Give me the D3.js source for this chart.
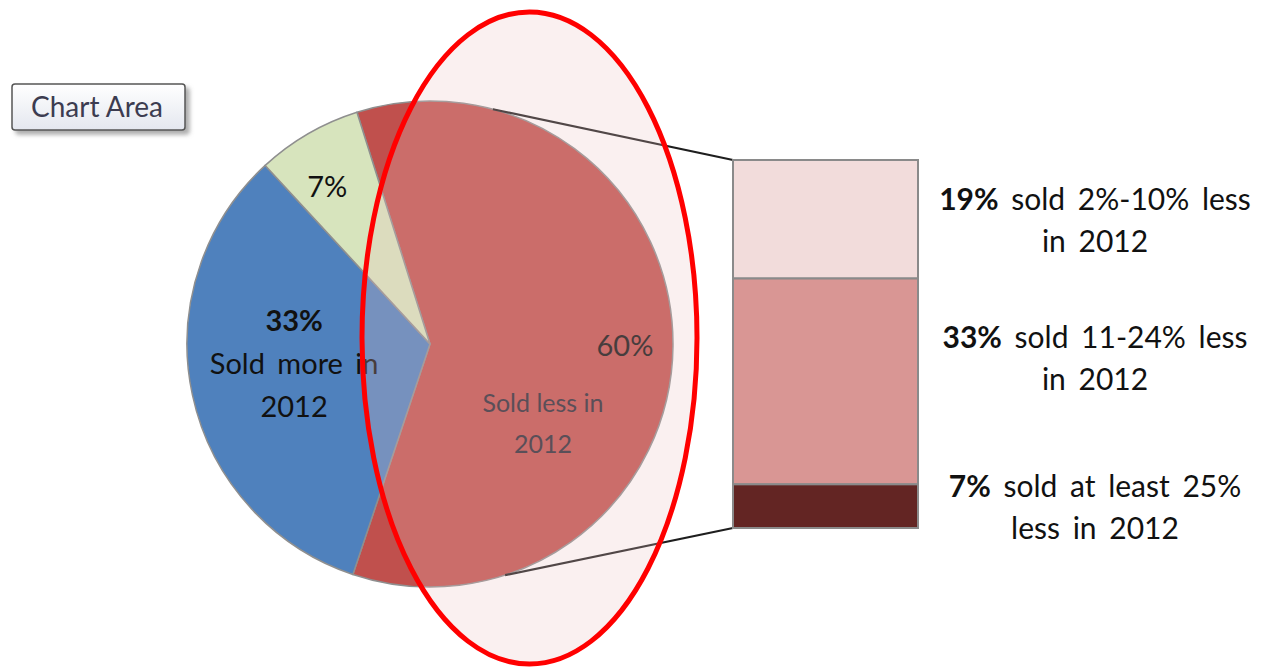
<!DOCTYPE html>
<html><head><meta charset="utf-8">
<script src="https://cdn.jsdelivr.net/npm/d3@7"></script>
<style>
body{margin:0;background:#fff;}
svg{display:block;font-family:Lato, "Open Sans", sans-serif;}
</style>
</head><body>
<svg id="c" width="1261" height="669"></svg>
<script>
// ---- data ----
const pieCategories = ["Sold less in 2012", "Sold more in 2012", "Sold the same"];
const pieValues = [60, 33, 7];
const pieColors = ["#c0504d", "#4f81bd", "#d7e4bd"];
const pieLabelLines = [["60%"], ["33%", "Sold more in", "2012"], ["7%"]];
const calloutLines = ["Sold less in", "2012"];

const barPercents = ["19%", "33%", "7%"];
const barValues = [19, 33, 7];
const barColors = ["#f2dcdb", "#d99694", "#632523"];
const barLabelLines = [["sold 2%-10% less", "in 2012"], ["sold 11-24% less", "in 2012"], ["sold at least 25%", "less in 2012"]];

// ---- layout ----
const svg = d3.select("#c");
const cx = 430, cy = 344, R = 243;
const startDeg = -17.5;

const defs = svg.append("defs");
const g1 = defs.append("linearGradient").attr("id", "boxg").attr("x1", 0).attr("y1", 0).attr("x2", 0).attr("y2", 1);
g1.append("stop").attr("offset", "0%").attr("stop-color", "#ffffff");
g1.append("stop").attr("offset", "100%").attr("stop-color", "#e4e7ef");
const f = defs.append("filter").attr("id", "sh").attr("x", "-10%").attr("y", "-20%").attr("width", "130%").attr("height", "160%");
f.append("feDropShadow").attr("dx", 4).attr("dy", 4).attr("stdDeviation", 2).attr("flood-color", "#777").attr("flood-opacity", 0.6);

const pie = d3.pie().sort(null).value(d => d)
  .startAngle(startDeg * Math.PI / 180)
  .endAngle(startDeg * Math.PI / 180 + 2 * Math.PI);
const arcs = pie(pieValues);
const arc = d3.arc().innerRadius(0).outerRadius(R);

const pg = svg.append("g").attr("transform", `translate(${cx},${cy})`);
pg.selectAll("path.slice").data(arcs).enter().append("path")
  .attr("class", "slice")
  .attr("d", arc)
  .attr("fill", (d, i) => pieColors[i])
  .attr("stroke", "#8f8f8f")
  .attr("stroke-width", 1.5)
  .attr("stroke-linejoin", "round");

// pie labels
const labelRadius = [195, 139, 187];
const labelShiftX = [0, 0, -9];
const labelShiftY = [0, -9, 5];
const lh = 43;
arcs.forEach((d, i) => {
  const a = (d.startAngle + d.endAngle) / 2;
  const r = labelRadius[i];
  const x = Math.sin(a) * r + labelShiftX[i], y = -Math.cos(a) * r + labelShiftY[i];
  const lines = pieLabelLines[i];
  const t = pg.append("text").attr("text-anchor", "middle")
    .attr("font-size", 29).attr("fill", "#111");
  lines.forEach((ln, j) => {
    t.append("tspan").attr("x", x)
      .attr("y", y + (j - (lines.length - 1) / 2) * lh + 10)
      .attr("font-weight", (lines.length > 1 && j === 0) ? "bold" : "normal")
      .attr("word-spacing", 5)
      .text(ln);
  });
});
// callout text for red slice
{
  const d = arcs[0];
  const a = (d.startAngle + d.endAngle) / 2;
  const x = Math.sin(a) * 113, y = -Math.cos(a) * 113 + 79;
  const t = pg.append("text").attr("text-anchor", "middle").attr("font-size", 25).attr("fill", "#2a2834");
  calloutLines.forEach((ln, j) => {
    t.append("tspan").attr("x", x).attr("y", y + (j - 0.5) * 41 + 9).text(ln);
  });
}

// bar
const barX = 733, barW = 185, barTop = 160, barBot = 528;
const total = d3.sum(barValues);
const y = d3.scaleLinear().domain([0, total]).range([barTop, barBot]);
const stacked = [];
let acc = 0;
barValues.forEach((v, i) => { stacked.push({v, i, y0: acc, y1: acc + v}); acc += v; });

// connector lines
const topAng = 15 * Math.PI / 180, botAng = 162 * Math.PI / 180;
const conn = [
  [cx + Math.sin(topAng) * R, cy - Math.cos(topAng) * R, barX, y(0)],
  [cx + Math.sin(botAng) * R, cy - Math.cos(botAng) * R, barX, y(total)]
];
svg.selectAll("line.conn").data(conn).enter().append("line")
  .attr("x1", d => d[0]).attr("y1", d => d[1]).attr("x2", d => d[2]).attr("y2", d => d[3])
  .attr("stroke", "#1e1e1e").attr("stroke-width", 2.2);

svg.selectAll("rect.seg").data(stacked).enter().append("rect")
  .attr("x", barX).attr("width", barW)
  .attr("y", d => y(d.y0)).attr("height", d => y(d.y1) - y(d.y0))
  .attr("fill", d => barColors[d.i])
  .attr("stroke", "#8a8a8a").attr("stroke-width", 2);

const barLabelDy = [-9, -33, -9];
const labX = 1095;
stacked.forEach(d => {
  const mid = (y(d.y0) + y(d.y1)) / 2 + barLabelDy[d.i];
  const t = svg.append("text").attr("text-anchor", "middle").attr("font-size", 30).attr("fill", "#111");
  const l1 = t.append("tspan").attr("x", labX).attr("y", mid).attr("word-spacing", 5);
  l1.append("tspan").attr("font-weight", "bold").text(barPercents[d.i]);
  l1.append("tspan").text(" " + barLabelLines[d.i][0]);
  t.append("tspan").attr("x", labX).attr("y", mid + 42).attr("word-spacing", 5).text(barLabelLines[d.i][1]);
});

// highlight ellipse overlay
svg.append("ellipse")
  .attr("cx", 529.5).attr("cy", 338).attr("rx", 167.5).attr("ry", 326)
  .attr("fill", "rgb(235,195,195)").attr("fill-opacity", 0.25)
  .attr("stroke", "#ff0000").attr("stroke-width", 5);

// "Chart Area" tooltip
const box = svg.append("g");
box.append("rect").attr("x", 12).attr("y", 84).attr("width", 173).attr("height", 46).attr("rx", 3)
  .attr("fill", "url(#boxg)").attr("stroke", "#555").attr("stroke-width", 1.5).attr("filter", "url(#sh)");
box.append("text").attr("x", 97).attr("y", 117).attr("text-anchor", "middle")
  .attr("font-size", 28).attr("fill", "#3c3c50").text("Chart Area");
</script>
</body></html>
